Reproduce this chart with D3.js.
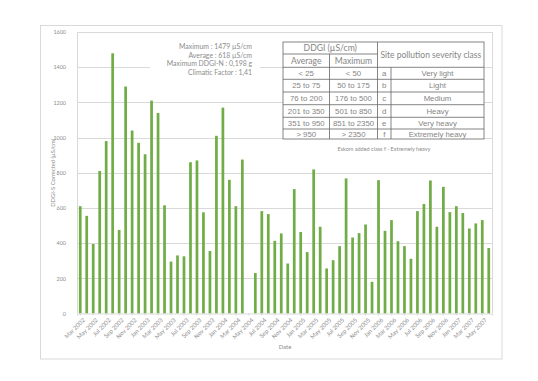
<!DOCTYPE html>
<html>
<head>
<meta charset="utf-8">
<script src="https://cdn.jsdelivr.net/npm/d3@7"></script>
<style>
  html, body { margin: 0; padding: 0; background: #ffffff; }
  svg { display: block; }
</style>
</head>
<body>
<svg id="chart" width="538" height="381"></svg>
<script>
// ---------------- DATA ----------------
const months = [
  "Mar 2002","Apr 2002","May 2002","Jun 2002","Jul 2002","Aug 2002","Sep 2002","Oct 2002","Nov 2002","Dec 2002",
  "Jan 2003","Feb 2003","Mar 2003","Apr 2003","May 2003","Jun 2003","Jul 2003","Aug 2003","Sep 2003","Oct 2003","Nov 2003","Dec 2003",
  "Jan 2004","Feb 2004","Mar 2004","Apr 2004","May 2004","Jun 2004","Jul 2004","Aug 2004","Sep 2004","Oct 2004","Nov 2004","Dec 2004",
  "Jan 2005","Feb 2005","Mar 2005","Apr 2005","May 2005","Jun 2005","Jul 2005","Aug 2005","Sep 2005","Oct 2005","Nov 2005","Dec 2005",
  "Jan 2006","Feb 2006","Mar 2006","Apr 2006","May 2006","Jun 2006","Jul 2006","Aug 2006","Sep 2006","Oct 2006","Nov 2006","Dec 2006",
  "Jan 2007","Feb 2007","Mar 2007","Apr 2007","May 2007","Jun 2007"
];
const ddgiValues = [
  610, 555, 395, 810, 980, 1479, 475, 1290, 1040, 970,
  905, 1210, 1140, 615, 295, 330, 325, 860, 870, 575, 355, 1010,
  1170, 760, 610, 875, null, 230, 582, 565, 413, 455, 284, 707,
  463, 349, 819, 493, 256, 303, 383, 768, 432, 457, 506, 180,
  758, 470, 531, 411, 383, 311, 582, 622, 756, 493, 720, 576,
  610, 571, 483, 512, 531, 372
];
const xTickLabels = [
  "Mar 2002","May 2002","Jul 2002","Sep 2002","Nov 2002","Jan 2003","Mar 2003","May 2003","Jul 2003","Sep 2003","Nov 2003",
  "Jan 2004","Mar 2004","May 2004","Jul 2004","Sep 2004","Nov 2004","Jan 2005","Mar 2005","May 2005","Jul 2005","Sep 2005","Nov 2005",
  "Jan 2006","Mar 2006","May 2006","Jul 2006","Sep 2006","Nov 2006","Jan 2007","Mar 2007","May 2007"
];
const yTicks = [0, 200, 400, 600, 800, 1000, 1200, 1400, 1600];
const yAxisTitle = "DDGI-S Corrected (µS/cm)";
const xAxisTitle = "Date";

const statsLines = [
  "Maximum : 1479 µS/cm",
  "Average : 618 µS/cm",
  "Maximum DDGI-N : 0,198 g",
  "Climatic Factor : 1,41"
];

const tableHeaderGroup = "DDGI (µS/cm)";
const tableHeaderAvg = "Average";
const tableHeaderMax = "Maximum";
const tableHeaderClass = "Site pollution severity class";
const averageRanges = ["< 25", "25 to  75", "76 to  200", "201 to  350", "351 to 950", "> 950"];
const maximumRanges = ["< 50", "50 to  175", "176 to  500", "501 to  850", "851 to 2350", "> 2350"];
const classLetters = ["a", "b", "c", "d", "e", "f"];
const classNames = ["Very  light", "Light", "Medium", "Heavy", "Very heavy", "Extremely heavy"];
const tableNote = "Eskom added class f - Extremely heavy";

// ---------------- LAYOUT ----------------
const svg = d3.select("#chart");
const plot = { left: 77, right: 492, top: 32, bottom: 313.5 };
const barColor = "#70ad47";
const gridColor = "#d9d9d9";
const textColor = "#8c8c8c";
const uiFont = "Lato, 'Open Sans', sans-serif";
const numFont = "'Liberation Sans', Arial, sans-serif";

// outer chart frame
svg.append("rect")
  .attr("x", 40.5).attr("y", 25.5).attr("width", 461.5).attr("height", 333.5)
  .attr("fill", "#ffffff").attr("stroke", "#d9d9d9").attr("stroke-width", 1);

const x = d3.scaleBand().domain(months)
  .range([plot.left, plot.right]).paddingInner(0.58).paddingOuter(0.29);
const y = d3.scaleLinear().domain([0, 1600]).range([plot.bottom, plot.top]);

// gridlines
svg.append("g").selectAll("line").data(yTicks.filter(d => d > 0)).join("line")
  .attr("x1", plot.left).attr("x2", plot.right)
  .attr("y1", d => Math.round(y(d)) + 0.5).attr("y2", d => Math.round(y(d)) + 0.5)
  .attr("stroke", gridColor).attr("stroke-width", 1);

// plot-area side borders
svg.append("line").attr("x1", plot.left + 0.5).attr("x2", plot.left + 0.5)
  .attr("y1", plot.top).attr("y2", plot.bottom).attr("stroke", gridColor);
svg.append("line").attr("x1", plot.right + 0.5).attr("x2", plot.right + 0.5)
  .attr("y1", plot.top).attr("y2", plot.bottom).attr("stroke", gridColor);

// y axis labels
const yAxis = d3.axisLeft(y).tickValues(yTicks).tickFormat(d3.format("d")).tickSize(0).tickPadding(11);
const gy = svg.append("g").attr("transform", `translate(${plot.left},0)`).call(yAxis);
gy.select(".domain").remove();
gy.selectAll("text").attr("fill", textColor).attr("font-family", uiFont).attr("font-size", 5.4);

// bars
svg.append("g").selectAll("rect")
  .data(months.map((m, i) => ({ m, v: ddgiValues[i] })).filter(d => d.v != null))
  .join("rect")
  .attr("x", d => x(d.m)).attr("width", x.bandwidth())
  .attr("y", d => y(d.v)).attr("height", d => y(0) - y(d.v))
  .attr("fill", barColor);

// x axis
const xAxis = d3.axisBottom(x).tickValues(xTickLabels).tickSize(2).tickPadding(2);
const gx = svg.append("g").attr("transform", `translate(0,${plot.bottom})`).call(xAxis);
gx.select(".domain").attr("stroke", gridColor);
gx.selectAll(".tick line").attr("stroke", gridColor);
gx.selectAll("text")
  .attr("fill", textColor).attr("font-family", uiFont).attr("font-size", 6)
  .attr("text-anchor", "end")
  .attr("transform", "translate(1,3) rotate(-45)")
  .attr("dy", "0.3em");

// axis titles
svg.append("text")
  .attr("transform", `translate(55,${(plot.top + plot.bottom) / 2}) rotate(-90)`)
  .attr("text-anchor", "middle").attr("fill", textColor)
  .attr("font-family", uiFont).attr("font-size", 5.8).text(yAxisTitle);
svg.append("text")
  .attr("x", 285).attr("y", 349).attr("text-anchor", "middle").attr("fill", textColor)
  .attr("font-family", uiFont).attr("font-size", 6).text(xAxisTitle);

// stats annotation box
svg.append("rect").attr("x", 150).attr("y", 38).attr("width", 110).attr("height", 40).attr("fill", "#ffffff");
svg.append("g").selectAll("text").data(statsLines).join("text")
  .attr("x", 252).attr("y", (d, i) => 49 + i * 8.6)
  .attr("text-anchor", "end").attr("fill", textColor)
  .attr("font-family", uiFont).attr("font-size", 6.9).text(d => d);

// table
const tbl = svg.append("g");
const cols = [283, 329.5, 377.5, 391, 484];
const rowY = [42, 54, 67.3, 79.3, 92, 104.7, 117.3, 129, 139];
const border = "#666666";
const tcol = "#858585";
tbl.append("rect").attr("x", cols[0]).attr("y", rowY[0])
  .attr("width", cols[4] - cols[0]).attr("height", rowY[8] - rowY[0])
  .attr("fill", "#ffffff").attr("stroke", border).attr("stroke-width", 0.8);
// horizontal lines
tbl.append("line").attr("x1", cols[0]).attr("x2", cols[2]).attr("y1", rowY[1]).attr("y2", rowY[1])
  .attr("stroke", border).attr("stroke-width", 0.8);
for (let r = 2; r < 8; r++) {
  tbl.append("line").attr("x1", cols[0]).attr("x2", cols[4]).attr("y1", rowY[r]).attr("y2", rowY[r])
    .attr("stroke", border).attr("stroke-width", 0.8);
}
// vertical lines
tbl.append("line").attr("x1", cols[1]).attr("x2", cols[1]).attr("y1", rowY[1]).attr("y2", rowY[8])
  .attr("stroke", border).attr("stroke-width", 0.8);
tbl.append("line").attr("x1", cols[2]).attr("x2", cols[2]).attr("y1", rowY[0]).attr("y2", rowY[8])
  .attr("stroke", border).attr("stroke-width", 0.8);
tbl.append("line").attr("x1", cols[3]).attr("x2", cols[3]).attr("y1", rowY[2]).attr("y2", rowY[8])
  .attr("stroke", border).attr("stroke-width", 0.8);
// headers
const hdrSize = 8.6;
tbl.append("text").attr("x", (cols[0] + cols[2]) / 2).attr("y", (rowY[0] + rowY[1]) / 2)
  .attr("dy", "0.35em").attr("text-anchor", "middle").attr("fill", tcol)
  .attr("font-family", uiFont).attr("font-size", hdrSize).text(tableHeaderGroup);
tbl.append("text").attr("x", (cols[0] + cols[1]) / 2).attr("y", (rowY[1] + rowY[2]) / 2)
  .attr("dy", "0.35em").attr("text-anchor", "middle").attr("fill", tcol)
  .attr("font-family", uiFont).attr("font-size", hdrSize).text(tableHeaderAvg);
tbl.append("text").attr("x", (cols[1] + cols[2]) / 2).attr("y", (rowY[1] + rowY[2]) / 2)
  .attr("dy", "0.35em").attr("text-anchor", "middle").attr("fill", tcol)
  .attr("font-family", uiFont).attr("font-size", hdrSize).text(tableHeaderMax);
tbl.append("text").attr("x", (cols[2] + cols[4]) / 2).attr("y", (rowY[0] + rowY[2]) / 2)
  .attr("dy", "0.35em").attr("text-anchor", "middle").attr("fill", tcol)
  .attr("font-family", uiFont).attr("font-size", 8.5).text(tableHeaderClass);
// body rows
const colData = [averageRanges, maximumRanges, classLetters, classNames];
colData.forEach((arr, c) => {
  tbl.append("g").selectAll("text").data(arr).join("text")
    .attr("x", (cols[c] + cols[c + 1]) / 2)
    .attr("y", (d, i) => (rowY[i + 2] + rowY[i + 3]) / 2)
    .attr("dy", "0.35em").attr("text-anchor", "middle").attr("fill", tcol)
    .attr("font-family", numFont).attr("font-size", 7.8).text(d => d);
});
svg.append("text").attr("x", 384).attr("y", 151).attr("text-anchor", "middle").attr("fill", textColor)
  .attr("font-family", uiFont).attr("font-size", 5.5).text(tableNote);
</script>
</body>
</html>
